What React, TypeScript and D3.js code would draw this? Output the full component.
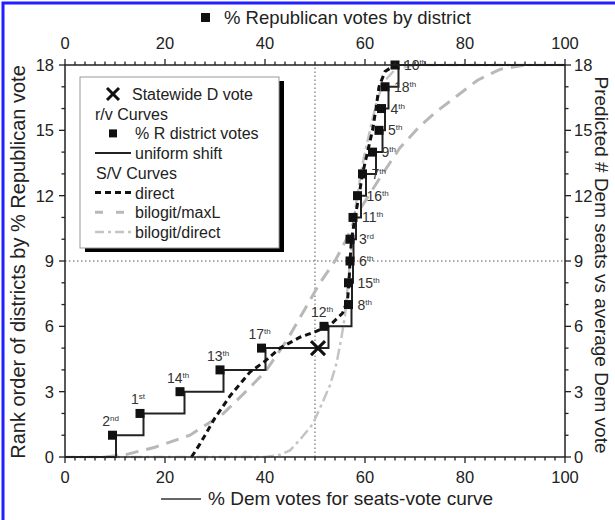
import React from "react";
import * as d3 from "d3";

// ---- data ----
const ranks = [1, 2, 3, 4, 5, 6, 7, 8, 9, 10, 11, 12, 13, 14, 15, 16, 17, 18];
const districtNum = ["2", "1", "14", "13", "17", "12", "8", "15", "6", "3", "11", "16", "7", "9", "5", "4", "18", "10"];
const districtSuffix = ["nd", "st", "th", "th", "th", "th", "th", "th", "th", "rd", "th", "th", "th", "th", "th", "th", "th", "th"];
const repVotes = [9.5, 15.0, 23.0, 31.0, 39.3, 51.8, 56.7, 56.7, 57.0, 57.0, 57.6, 58.5, 59.5, 61.5, 62.8, 63.3, 64.0, 66.0];
const shiftVotes = [10.2, 15.7, 23.9, 31.7, 40.1, 52.7, 57.3, 57.4, 57.6, 57.7, 58.2, 59.2, 60.2, 62.2, 63.5, 64.0, 64.7, 66.7];

const statewideVote = 50.6;
const statewideSeats = 5;

const directV = [25.3, 27, 30, 33, 37, 40, 43, 47, 50, 53, 55.5, 56.5, 56.8, 57, 57.3, 58, 58.8, 59.5, 60.5, 61.5, 62.2, 62.8, 64, 66];
const directS = [0, 0.6, 1.8, 2.8, 3.9, 4.4, 5.0, 5.5, 5.75, 6.05, 6.6, 7.2, 8, 9, 10, 11, 12, 13, 14, 15, 16, 17, 17.7, 18];

const maxLV = [8, 12, 18, 25, 31.7, 35.7, 40, 44.5, 48, 51, 54, 56.3, 58.5, 61, 63.5, 67, 71, 74.5, 78.5, 82.5, 87, 92];
const maxLS = [0, 0.1, 0.45, 1.0, 2, 2.9, 3.9, 5.4, 6.8, 8, 9, 10, 11.2, 12.1, 13, 14.2, 15.2, 15.9, 16.6, 17.3, 17.8, 18];

const bdV = [0, 40, 43, 45, 47, 49.5, 51.5, 53, 54.3, 55.3, 56, 56.6, 57, 57.5, 58, 58.8, 59.8, 61, 62.3, 63.7, 66, 70, 100];
const bdS = [0, 0, 0.1, 0.3, 0.8, 1.5, 2.5, 3.3, 4.3, 5.5, 6.5, 8, 9, 10, 11.3, 12.5, 13.8, 15, 16.3, 17.2, 17.8, 18, 18];

const xTicks = [0, 20, 40, 60, 80, 100];
const yTicks = [0, 3, 6, 9, 12, 15, 18];

const FONT = "'Liberation Sans', Arial, Helvetica, sans-serif";

export default function App() {
  const W = 615, H = 520;
  const x = d3.scaleLinear().domain([0, 100]).range([65, 565]);
  const y = d3.scaleLinear().domain([0, 18]).range([457, 65]);

  const line = d3.line<[number, number]>().x(d => x(d[0])).y(d => y(d[1]));

  const stepPts: [number, number][] = [[0, 0]];
  shiftVotes.forEach((v, i) => {
    stepPts.push([v, i]);
    stepPts.push([v, i + 1]);
  });
  stepPts.push([100, 18]);

  const directPts = directV.map((v, i) => [v, directS[i]] as [number, number]);
  const maxLPts = maxLV.map((v, i) => [v, maxLS[i]] as [number, number]);
  const bdPts = bdV.map((v, i) => [v, bdS[i]] as [number, number]);

  const xMinor = d3.range(0, 101, 2);
  const yMinor = d3.range(0, 19, 1);

  const cx = x(statewideVote), cy = y(statewideSeats);

  const legendTop = 94;
  const rowH = 19.7;

  return (
    <svg width={W} height={H} style={{ position: "absolute", left: 0, top: 0, background: "#fff" }} fontFamily={FONT}>
      <rect x={0} y={0} width={W} height={H} fill="#fff" />
      {/* blue frame */}
      <rect x={3} y={3} width={640} height={560} fill="none" stroke="#1f1fff" strokeWidth={3} />

      {/* reference dotted lines */}
      <line x1={x(50)} x2={x(50)} y1={y(0)} y2={y(18)} stroke="#555" strokeWidth={1} strokeDasharray="1.5,2.5" />
      <line x1={x(0)} x2={x(100)} y1={y(9)} y2={y(9)} stroke="#555" strokeWidth={1} strokeDasharray="1.5,2.5" />

      {/* S/V curves */}
      <path d={line(maxLPts) || ""} fill="none" stroke="#b8b8b8" strokeWidth={3} strokeDasharray="13,8" />
      <path d={line(bdPts) || ""} fill="none" stroke="#c4c4c4" strokeWidth={2.5} strokeDasharray="11,4,3,4" />

      {/* uniform shift step */}
      <path d={line(stepPts) || ""} fill="none" stroke="#222" strokeWidth={2} />

      {/* direct */}
      <path d={line(directPts) || ""} fill="none" stroke="#111" strokeWidth={3} strokeDasharray="6,4" />

      {/* district markers */}
      {ranks.map((r, i) => (
        <rect key={"m" + i} x={x(repVotes[i]) - 4.5} y={y(r) - 4.5} width={9} height={9} fill="#111" />
      ))}

      {/* district labels */}
      {ranks.map((r, i) => {
        const upper = r >= 7;
        const tx = upper ? x(repVotes[i]) + 9 : x(repVotes[i]) - 2;
        const ty = upper ? y(r) + 5 : y(r) - 9;
        return (
          <text key={"l" + i} x={tx} y={ty} fontSize={14} fill="#333" textAnchor={upper ? "start" : "middle"}>
            {districtNum[i]}
            <tspan fontSize={8} dy={-5}>{districtSuffix[i]}</tspan>
          </text>
        );
      })}

      {/* statewide X */}
      <g stroke="#111" strokeWidth={3}>
        <line x1={cx - 7} y1={cy - 7} x2={cx + 7} y2={cy + 7} />
        <line x1={cx - 7} y1={cy + 7} x2={cx + 7} y2={cy - 7} />
      </g>

      {/* axes frame */}
      <rect x={x(0)} y={y(18)} width={x(100) - x(0)} height={y(0) - y(18)} fill="none" stroke="#222" strokeWidth={1.5} />

      {/* x ticks bottom & top */}
      {xMinor.map(v => {
        const major = v % 20 === 0;
        const len = major ? 6 : 3.5;
        return (
          <g key={"xt" + v} stroke="#222" strokeWidth={1.3}>
            <line x1={x(v)} x2={x(v)} y1={y(0)} y2={y(0) + len} />
            <line x1={x(v)} x2={x(v)} y1={y(18)} y2={y(18) - len} />
          </g>
        );
      })}
      {xTicks.map(v => (
        <g key={"xl" + v} fontSize={16.5} fill="#222" textAnchor="middle">
          <text x={x(v)} y={y(0) + 26}>{v}</text>
          <text x={x(v)} y={y(18) - 16}>{v}</text>
        </g>
      ))}

      {/* y ticks left & right */}
      {yMinor.map(v => {
        const major = v % 3 === 0;
        const len = major ? 6 : 3.5;
        return (
          <g key={"yt" + v} stroke="#222" strokeWidth={1.3}>
            <line x1={x(0) - len} x2={x(0)} y1={y(v)} y2={y(v)} />
            <line x1={x(100)} x2={x(100) + len} y1={y(v)} y2={y(v)} />
          </g>
        );
      })}
      {yTicks.map(v => (
        <g key={"yl" + v} fontSize={16.5} fill="#222">
          <text x={x(0) - 11} y={y(v) + 6} textAnchor="end">{v}</text>
          <text x={x(100) + 9} y={y(v) + 6} textAnchor="start">{v}</text>
        </g>
      ))}

      {/* axis titles */}
      <rect x={201} y={13} width={9} height={9} fill="#111" />
      <text x={224} y={24} fontSize={18.5} fill="#222">% Republican votes by district</text>

      <line x1={161} x2={201} y1={499} y2={499} stroke="#333" strokeWidth={1.5} />
      <text x={208} y={505} fontSize={19} fill="#222">% Dem votes for seats-vote curve</text>

      <text transform={`translate(25,${262}) rotate(-90)`} fontSize={20} fill="#222" textAnchor="middle">
        Rank order of districts by % Republican vote
      </text>
      <text transform={`translate(595,${265}) rotate(90)`} fontSize={19} fill="#222" textAnchor="middle">
        Predicted # Dem seats vs average Dem vote
      </text>

      {/* legend */}
      <rect x={85} y={81} width={199} height={171} fill="#000" />
      <rect x={80} y={77} width={199} height={171} fill="#fff" stroke="#999" strokeWidth={1} />
      <g fontSize={16} fill="#222">
        <g stroke="#111" strokeWidth={3}>
          <line x1={107} y1={legendTop - 6} x2={119} y2={legendTop + 6} />
          <line x1={107} y1={legendTop + 6} x2={119} y2={legendTop - 6} />
        </g>
        <text x={132} y={legendTop + 6}>Statewide D vote</text>
        <text x={95} y={legendTop + rowH + 6}>r/v Curves</text>
        <rect x={109} y={legendTop + 2 * rowH - 4} width={8} height={8} fill="#111" />
        <text x={135} y={legendTop + 2 * rowH + 6}>% R district votes</text>
        <line x1={95} x2={131} y1={legendTop + 3 * rowH} y2={legendTop + 3 * rowH} stroke="#222" strokeWidth={2} />
        <text x={135} y={legendTop + 3 * rowH + 6}>uniform shift</text>
        <text x={96} y={legendTop + 4 * rowH + 6}>S/V Curves</text>
        <line x1={95} x2={131} y1={legendTop + 5 * rowH} y2={legendTop + 5 * rowH} stroke="#111" strokeWidth={3} strokeDasharray="6,4" />
        <text x={135} y={legendTop + 5 * rowH + 6}>direct</text>
        <line x1={95} x2={131} y1={legendTop + 6 * rowH} y2={legendTop + 6 * rowH} stroke="#b8b8b8" strokeWidth={3} strokeDasharray="8,13" />
        <text x={135} y={legendTop + 6 * rowH + 6}>bilogit/maxL</text>
        <line x1={95} x2={131} y1={legendTop + 7 * rowH} y2={legendTop + 7 * rowH} stroke="#c4c4c4" strokeWidth={2.5} strokeDasharray="9,4,3,4" />
        <text x={135} y={legendTop + 7 * rowH + 6}>bilogit/direct</text>
      </g>
    </svg>
  );
}
